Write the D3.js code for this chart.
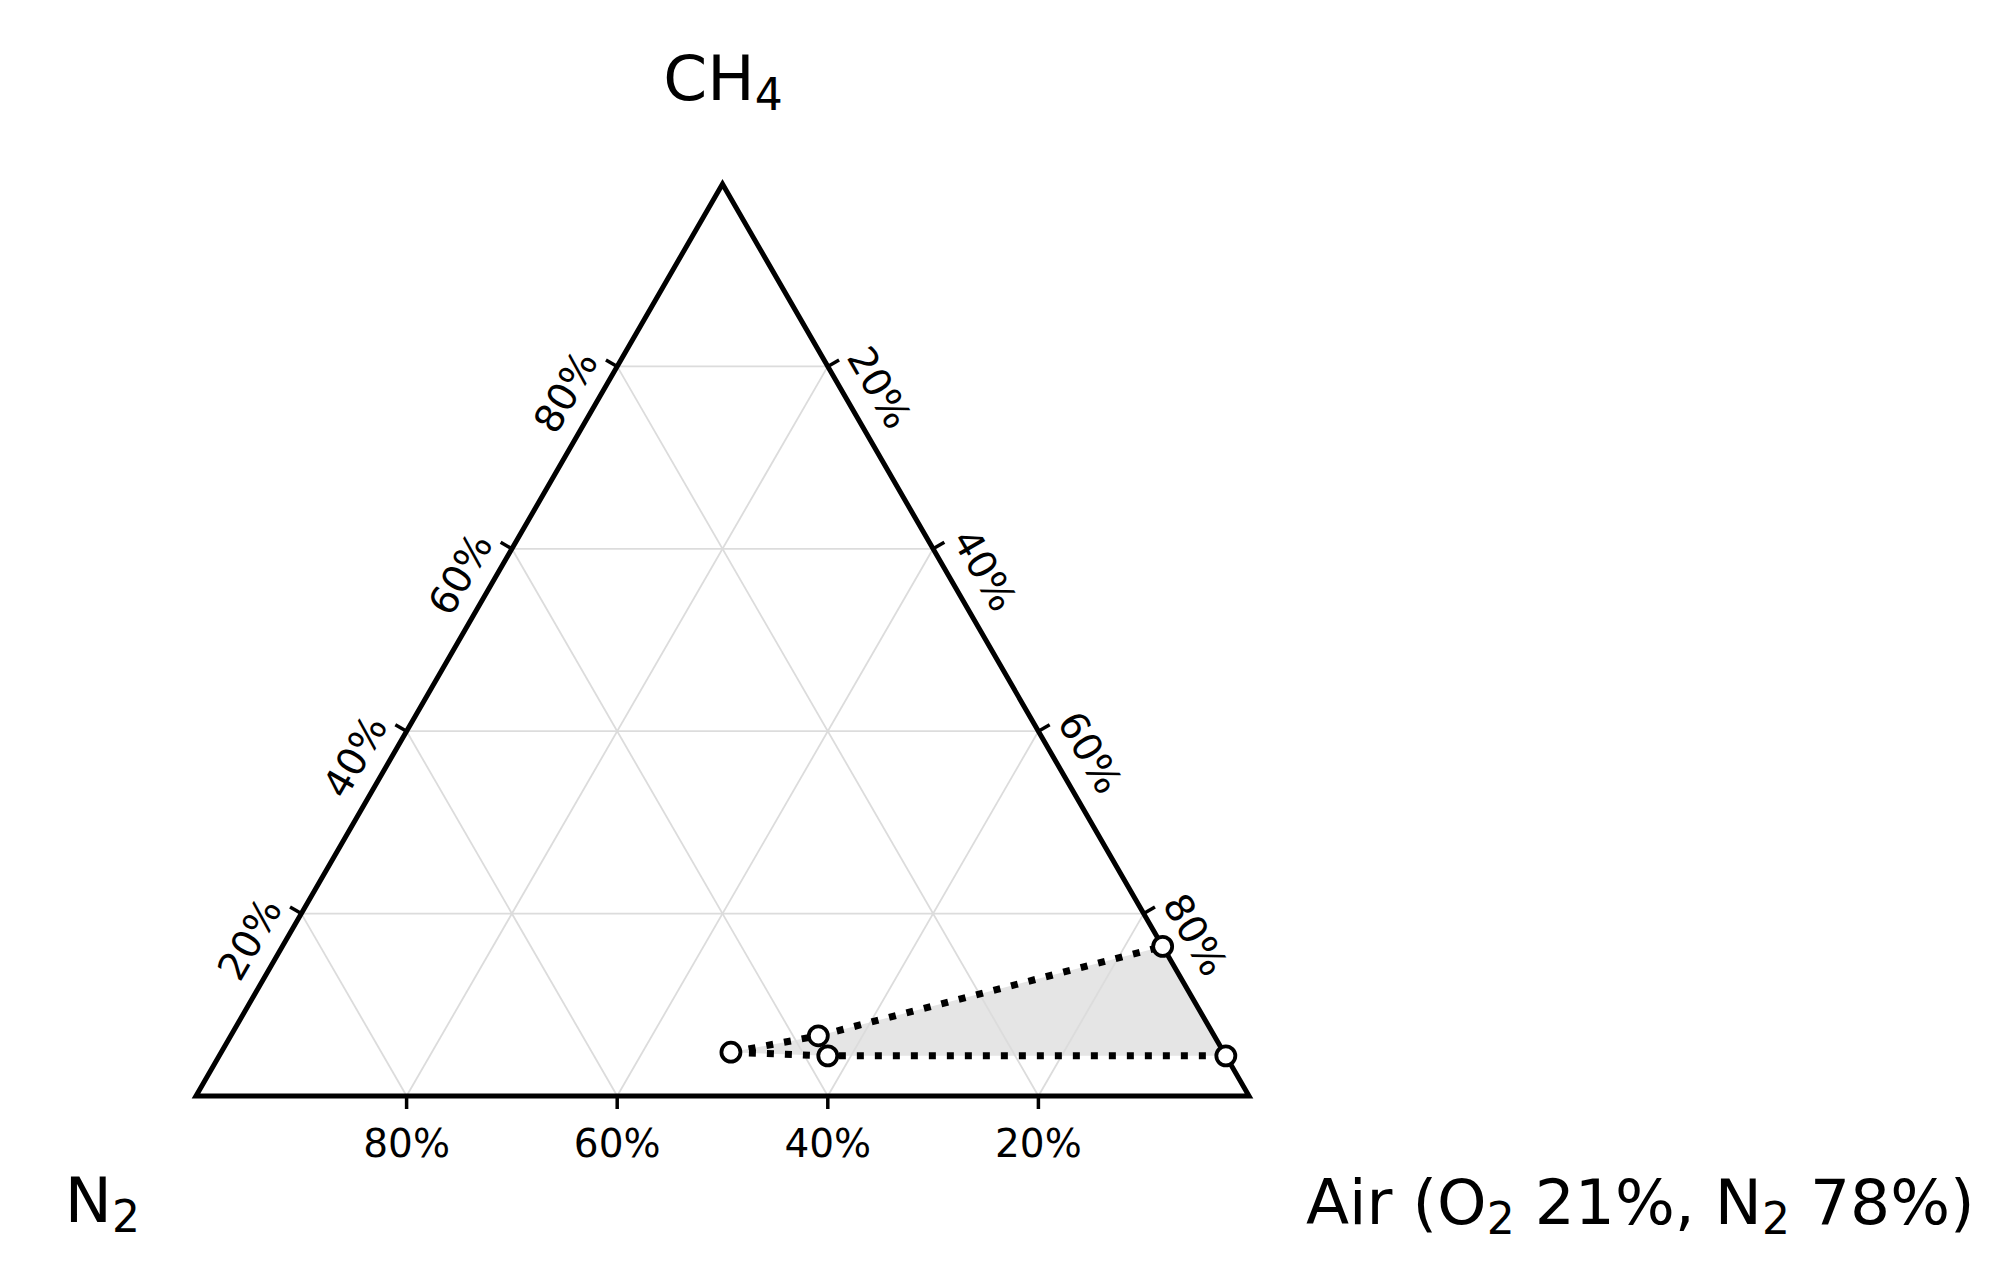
<!DOCTYPE html>
<html>
<head>
<meta charset="utf-8">
<script src="https://cdn.jsdelivr.net/npm/d3@7"></script>
<style>
  body { margin: 0; background: #fff; }
  svg { display: block; }
  text { font-family: "DejaVu Sans", sans-serif; fill: #000; }
</style>
</head>
<body>
<div id="chart"></div>
<script>
/* global d3 */

// grid / tick positions (fractions) and their labels
var gridValues = [0.2, 0.4, 0.6, 0.8];
var tickLabels = ["20%", "40%", "60%", "80%"];

// flammable region vertices: CH4, N2, Air fractions
var regionCH4 = [0.048, 0.066, 0.164, 0.044, 0.044];
var regionN2  = [0.468, 0.376, 0.000, 0.000, 0.378];
var regionAir = [0.484, 0.558, 0.836, 0.956, 0.578];

// the two dotted boundaries, as indices into the region arrays
var upperBoundary = [0, 1, 2];
var lowerBoundary = [0, 4, 3];

// corner labels, [text, isSubscript]
var topLabel   = [["CH", false], ["4", true]];
var leftLabel  = [["N", false], ["2", true]];
var rightLabel = [["Air (O", false], ["2", true], [" 21%, N", false], ["2", true], [" 78%)", false]];

var width = 2000, height = 1271;

var svg = d3.select("#chart").append("svg")
    .attr("width", width)
    .attr("height", height);

// horizontal position runs along the bottom edge, vertical one is the CH4 share
var xScale = d3.scaleLinear().domain([0, 1]).range([196, 1249]);
var yScale = d3.scaleLinear().domain([0, 1]).range([1096, 184]);

function toXY(ch4, air) {
    return [xScale(air + ch4 / 2), yScale(ch4)];
}

var line = d3.line();

var region = regionCH4.map(function(c, i) {
    return toXY(c, regionAir[i]);
});

// shaded flammable area
svg.append("path")
    .attr("d", line(region) + "Z")
    .attr("fill", "#e5e5e5")
    .attr("stroke", "none");

// grid lines
var gridG = svg.append("g")
    .attr("stroke", "#dcdcdc")
    .attr("stroke-width", 1.8)
    .attr("fill", "none");

gridValues.forEach(function(v) {
    // CH4 constant
    gridG.append("path").attr("d", line([toXY(v, 0), toXY(v, 1 - v)]));
    // N2 constant
    gridG.append("path").attr("d", line([toXY(0, 1 - v), toXY(1 - v, 0)]));
    // Air constant
    gridG.append("path").attr("d", line([toXY(0, v), toXY(1 - v, v)]));
});

// outer triangle
svg.append("path")
    .attr("d", line([toXY(0, 0), toXY(0, 1), toXY(1, 0)]) + "Z")
    .attr("fill", "none")
    .attr("stroke", "#000")
    .attr("stroke-width", 5)
    .attr("stroke-linejoin", "miter");

// ticks: bottom = N2, left = CH4, right = Air
var tickLen = 13;
var axes = [
    { at: function(v) { return toXY(0, 1 - v); }, dir: [0, 1], rot: 0, off: [0, 47] },
    { at: function(v) { return toXY(v, 0); }, dir: [-0.866, -0.5], rot: -60, off: [-52, 25] },
    { at: function(v) { return toXY(1 - v, v); }, dir: [0.866, -0.5], rot: 60, off: [52, 21] }
];

axes.forEach(function(ax) {
    var g = svg.append("g");
    gridValues.forEach(function(v, i) {
        var p = ax.at(v);
        g.append("line")
            .attr("x1", p[0]).attr("y1", p[1])
            .attr("x2", p[0] + ax.dir[0] * tickLen)
            .attr("y2", p[1] + ax.dir[1] * tickLen)
            .attr("stroke", "#000")
            .attr("stroke-width", 3.5);
        g.append("text")
            .attr("transform", "translate(" + (p[0] + ax.off[0]) + "," + (p[1] + ax.off[1]) + ") rotate(" + ax.rot + ")")
            .attr("text-anchor", "middle")
            .attr("dy", "0.36em")
            .style("font-size", "39px")
            .text(tickLabels[i]);
    });
});

// dotted boundaries
[upperBoundary, lowerBoundary].forEach(function(idx) {
    svg.append("path")
        .attr("d", line(idx.map(function(i) { return region[i]; })))
        .attr("fill", "none")
        .attr("stroke", "#000")
        .attr("stroke-width", 7)
        .attr("stroke-dasharray", "7,11");
});

// markers
svg.selectAll("circle.pt")
    .data(region)
    .enter().append("circle")
    .attr("class", "pt")
    .attr("cx", function(d) { return d[0]; })
    .attr("cy", function(d) { return d[1]; })
    .attr("r", 9.5)
    .attr("fill", "#fff")
    .attr("stroke", "#000")
    .attr("stroke-width", 3.8);

function addLabel(parts, x, y, anchor) {
    var t = svg.append("text")
        .attr("x", x)
        .attr("y", y)
        .attr("text-anchor", anchor)
        .style("font-size", "63px");
    var shifted = false;
    parts.forEach(function(p) {
        var s = t.append("tspan").text(p[0]);
        if (p[1]) {
            s.style("font-size", "44px").attr("dy", 10);
            shifted = true;
        } else if (shifted) {
            s.attr("dy", -10);
            shifted = false;
        }
    });
}

addLabel(topLabel, 723, 100, "middle");
addLabel(leftLabel, 140, 1222, "end");
addLabel(rightLabel, 1306, 1224, "start");
</script>
</body>
</html>
